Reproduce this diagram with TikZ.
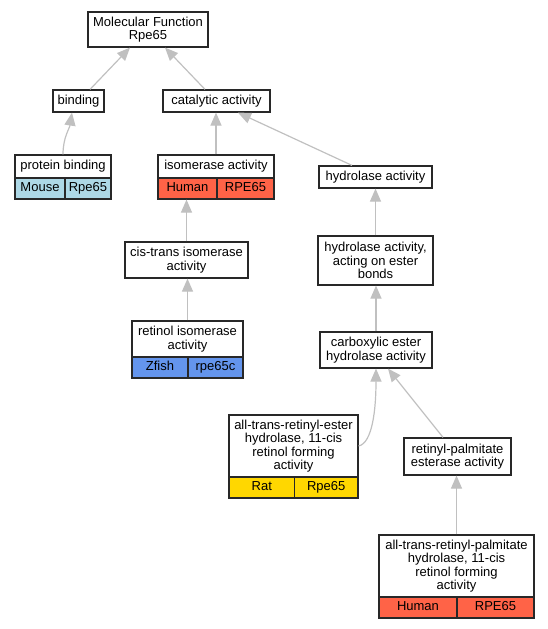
\documentclass[tikz,border=0pt]{standalone}
\usepackage{fontspec}
\setmainfont{Liberation Sans}
\usetikzlibrary{arrows.meta,calc}
\definecolor{edgegray}{RGB}{192,192,192}
\definecolor{boxline}{RGB}{40,40,40}
\definecolor{mouse}{RGB}{173,216,230}
\definecolor{human}{RGB}{255,99,71}
\definecolor{zfish}{RGB}{100,149,237}
\definecolor{rat}{RGB}{255,215,0}
\begin{document}
\begin{tikzpicture}[x=1pt,y=-1pt,
  box/.style={draw=boxline, line width=1.2pt, fill=white, inner sep=0pt, align=center, font=\fontsize{13}{13.3}\selectfont},
  one/.style={box, text height=9.4pt, text depth=2.7pt},
  cell/.style={one, minimum height=21pt},
  edge/.style={draw=edgegray, line width=1.2pt, -{Triangle[length=13pt,width=11pt]}}]
\useasboundingbox (0,0) rectangle (548,629);
% nodes
\node[box, minimum width=120pt, minimum height=35pt] (mf) at (148,29.5) {Molecular Function\\Rpe65};
\node[one, minimum width=51pt, minimum height=22pt] (bind) at (78.5,101) {binding};
\node[one, minimum width=107pt, minimum height=22pt] (cat) at (216.5,101) {catalytic activity};
\node[one, minimum width=96pt, minimum height=23pt] (pb) at (63,166.5) {protein binding};
\node[cell, fill=mouse, minimum width=50pt] (pbA) at (40,188.5) {Mouse};
\node[cell, fill=mouse, minimum width=46pt] (pbB) at (88,188.5) {Rpe65};
\node[one, minimum width=116pt, minimum height=23pt] (iso) at (216,166.5) {isomerase activity};
\node[cell, fill=human, minimum width=59pt] (isoA) at (187.5,188.5) {Human};
\node[cell, fill=human, minimum width=57pt] (isoB) at (245.5,188.5) {RPE65};
\node[one, minimum width=113pt, minimum height=22pt] (hyd) at (375.5,177) {hydrolase activity};
\node[box, minimum width=123pt, minimum height=36pt] (cti) at (186.5,260) {cis-trans isomerase\\activity};
\node[box, minimum width=115pt, minimum height=49pt] (hae) at (375.5,260.5) {hydrolase activity,\\acting on ester\\bonds};
\node[box, minimum width=111pt, minimum height=36pt] (ri) at (187.5,339) {retinol isomerase\\activity};
\node[cell, fill=zfish, minimum width=56pt] (riA) at (160,367.5) {Zfish};
\node[cell, fill=zfish, minimum width=55pt] (riB) at (215.5,367.5) {rpe65c};
\node[box, minimum width=112pt, minimum height=36pt] (ceh) at (376,350) {carboxylic ester\\hydrolase activity};
\node[box, minimum width=129pt, minimum height=62pt] (atre) at (293.5,446) {all-trans-retinyl-ester\\hydrolase, 11-cis\\retinol forming\\activity};
\node[cell, fill=rat, minimum width=65.5pt] (atreA) at (261.75,487.5) {Rat};
\node[cell, fill=rat, minimum width=63.5pt] (atreB) at (326.25,487.5) {Rpe65};
\node[box, minimum width=107pt, minimum height=37pt] (rpe) at (457.5,456.5) {retinyl-palmitate\\esterase activity};
\node[box, minimum width=155pt, minimum height=62pt] (atrp) at (456.5,566) {all-trans-retinyl-palmitate\\hydrolase, 11-cis\\retinol forming\\activity};
\node[cell, fill=human, minimum width=78pt] (atrpA) at (418,607.5) {Human};
\node[cell, fill=human, minimum width=77pt] (atrpB) at (495.5,607.5) {RPE65};
% edges
\draw[edge] ([xshift=11.5pt]bind.north) -- ([xshift=-18pt]mf.south);
\draw[edge] ([xshift=-11.5pt]cat.north) -- ([xshift=17pt]mf.south);
\draw[edge] (pb.north) .. controls ($(pb.north)+(0,-17)$) and ($(bind.south)+(-9,16)$) .. ([xshift=-6.5pt]bind.south);
\draw[edge] (iso.north) -- (iso.north |- cat.south);
\draw[edge] ([xshift=-23.5pt]hyd.north) -- ([xshift=21.5pt]cat.south);
\draw[edge] (cti.north) -- (cti.north |- isoA.south);
\draw[edge] (ri.north) -- (ri.north |- cti.south);
\draw[edge] (hae.north) -- (hae.north |- hyd.south);
\draw[edge] (ceh.north) -- (ceh.north |- hae.south);
\draw[edge] (atre.east) .. controls ($(atre.east)+(14,-3)$) and ($(ceh.south)+(0,40)$) .. (ceh.south);
\draw[edge] ([xshift=-14.5pt]rpe.north) -- ([xshift=12pt]ceh.south);
\draw[edge] (atrp.north) -- (atrp.north |- rpe.south);
\end{tikzpicture}
\end{document}
